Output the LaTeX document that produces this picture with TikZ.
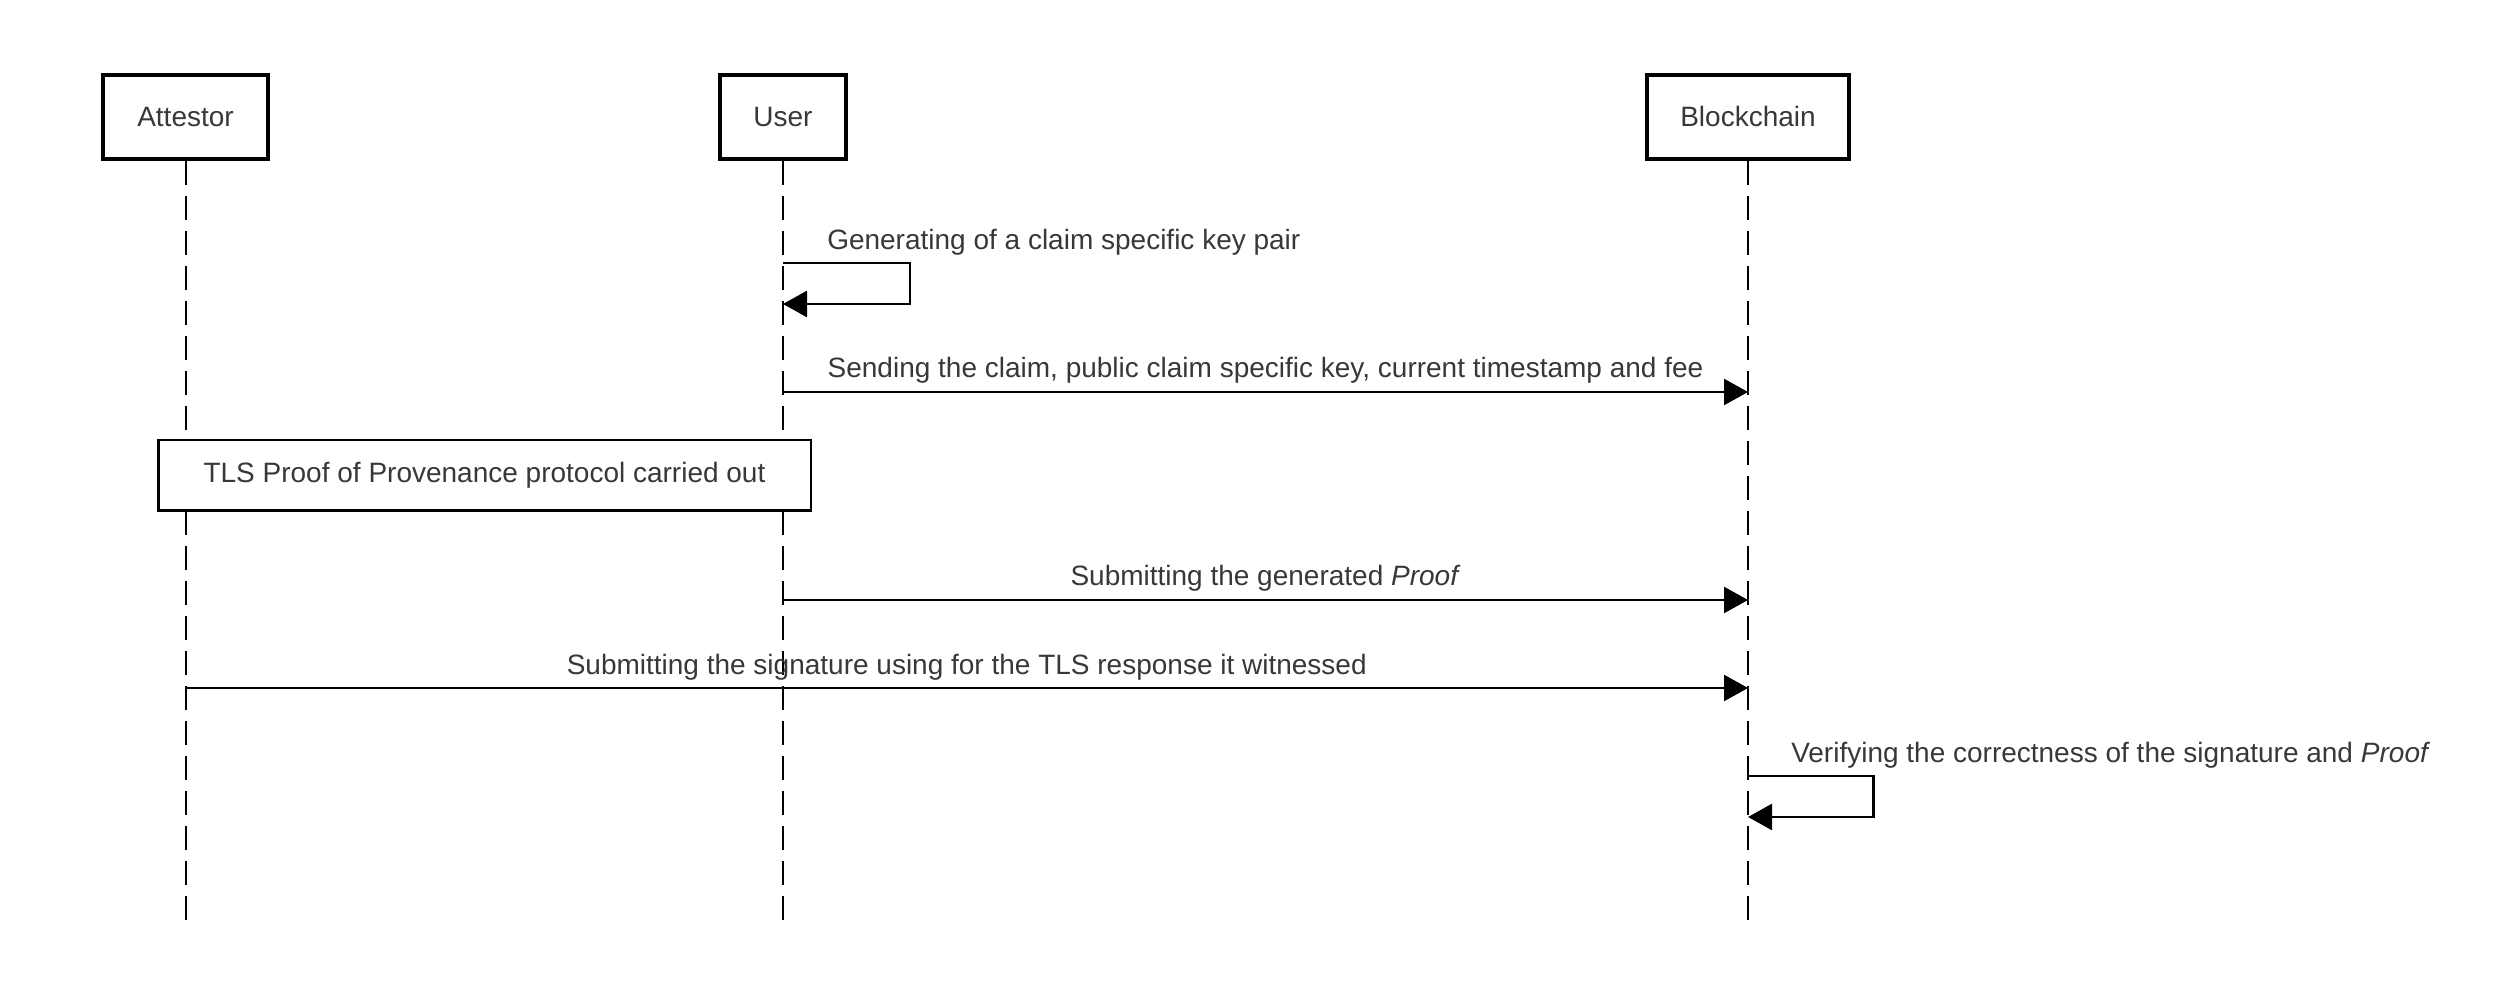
\documentclass[tikz,border=0pt]{standalone}
\usepackage{fontspec}
\setmainfont{Liberation Sans}
\usetikzlibrary{arrows.meta}
\newcommand{\dfont}{\fontsize{14pt}{16pt}\selectfont}
\begin{document}
\begin{tikzpicture}[x=0.5pt,y=-0.5pt,
  actor/.style={draw=black, line width=2pt, minimum height=42pt, inner sep=0pt, fill=white, text=black!78, font=\dfont},
  lifeline/.style={line width=1pt, dash pattern=on 12pt off 5.5pt},
  msg/.style={line width=1.25pt, -{Triangle[length=12pt,width=13pt]}},
  lbl/.style={text=black!78, font=\dfont, inner sep=0pt},
  framebox/.style={draw=black, line width=1.25pt, fill=white, inner sep=0pt, minimum width=326.25pt, minimum height=35.25pt, text=black!78, font=\dfont}
]
\useasboundingbox (0,0) rectangle (2512,1004);
% actors
\node[actor, minimum width=82.5pt] (att) at (185.5,117) {Attestor};
\node[actor, minimum width=63pt] (usr) at (783,117) {User};
\node[actor, minimum width=101pt] (bc) at (1748,117) {Blockchain};
% lifeline ends
\coordinate (attE) at (185.5,925);
\coordinate (usrE) at (783,925);
\coordinate (bcE) at (1748,925);
\draw[lifeline] (att.south) -- (attE);
\draw[lifeline] (usr.south) -- (usrE);
\draw[lifeline] (bc.south) -- (bcE);
% message points
\coordinate (u1) at (783,263);
\coordinate (u1b) at (783,304);
\coordinate (u2) at (783,392);
\coordinate (b2) at (1748,392);
\coordinate (u3) at (783,600);
\coordinate (b3) at (1748,600);
\coordinate (a4) at (185.5,688);
\coordinate (b4) at (1748,688);
\coordinate (b5) at (1748,776);
\coordinate (b5b) at (1748,817);
% 1 self message
\draw[msg] (u1) node[lbl, anchor=base west, xshift=21.5pt, yshift=6.5pt] {Generating of a claim specific key pair} -- ++(127,0) |- (u1b);
% 2
\draw[msg] (u2) -- node[lbl, anchor=base, yshift=7pt] {Sending the claim, public claim specific key, current timestamp and fee} (b2);
% TLS frame
\node[framebox] (tls) at (484.5,475.5) {TLS Proof of Provenance protocol carried out};
% 3
\draw[msg] (u3) -- node[lbl, anchor=base, yshift=7pt] {Submitting the generated \textit{Proof}} (b3);
% 4
\draw[msg] (a4) -- node[lbl, anchor=base, yshift=6.5pt] {Submitting the signature using for the TLS response it witnessed} (b4);
% 5 self message
\draw[msg] (b5) node[lbl, anchor=base west, xshift=21pt, yshift=6.5pt] {Verifying the correctness of the signature and \textit{Proof}} -- ++(125.5,0) |- (b5b);
\end{tikzpicture}
\end{document}
